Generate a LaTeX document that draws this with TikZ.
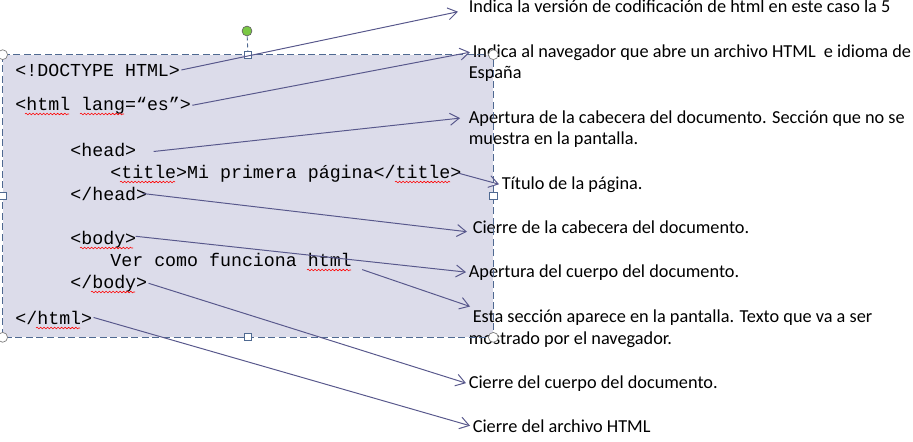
\documentclass[tikz,border=0pt]{standalone}
\usepackage{fontspec}
\setmainfont{Carlito}
\newfontfamily\codefont{Liberation Mono}
\usetikzlibrary{arrows.meta, calc, decorations.pathmorphing}

\definecolor{boxfill}{RGB}{220,220,234}
\definecolor{boxline}{RGB}{79,105,145}
\definecolor{arrowcol}{RGB}{88,88,140}
\definecolor{handlegreen}{RGB}{122,200,68}

\begin{document}
\begin{tikzpicture}[
    x=0.025cm, y=-0.025cm,
    >={Straight Barb[length=6.5pt,width=8.5pt]},
    code/.style={anchor=base west, inner sep=0pt, outer sep=1pt,
                 font=\codefont\fontsize{13}{15}\selectfont},
    note/.style={anchor=base west, inner sep=0pt, outer sep=2pt,
                 font=\fontsize{13}{16}\selectfont},
    arr/.style={->, draw=arrowcol, line width=0.7pt},
    spell/.style={draw=red, line width=0.4pt, decorate,
                  decoration={snake, amplitude=0.6pt, segment length=2.5pt}},
    corner/.style={circle, draw=gray, fill=white, inner sep=0pt,
                   minimum size=7pt, line width=0.5pt},
    side/.style={rectangle, draw=boxline, fill=white, inner sep=0pt,
                 minimum size=5pt, line width=0.5pt}
  ]
  \useasboundingbox (0,0) rectangle (913,441);

  % text box with the html source
  \node[fill=boxfill, minimum width=12.25cm, minimum height=7.05cm,
        inner sep=0pt] (frame) at (248,196) {};

  \node[code] (doctype)   at (14,76)  {<!DOCTYPE HTML>};
  \node[code] (htmlopen)  at (14,110) {<html lang=“es”>};
  \node[code] (headopen)  at (69,156) {<head>};
  \node[code] (title)     at (109,178) {<title>Mi primera página</title>};
  \node[code] (headclose) at (69,200) {</head>};
  \node[code] (bodyopen)  at (69,244) {<body>};
  \node[code] (content)   at (109,266) {Ver como funciona html};
  \node[code] (bodyclose) at (69,288) {</body>};
  \node[code] (htmlclose) at (14,324) {</html>};

  % spelling marks
  \draw[spell] (25,114) -- (69,114);
  \draw[spell] (80,114) -- (124,114);
  \draw[spell] (120,182) -- (175,182);
  \draw[spell] (395,182) -- (450,182);
  \draw[spell] (80,248) -- (133,248);
  \draw[spell] (307,270) -- (351,270);
  \draw[spell] (91,292) -- (135,292);
  \draw[spell] (36,328) -- (80,328);

  % explanations
  \node[note] (n1)  at (466,12)  {Indica la versión de codificación de html en este caso la 5};
  \node[note] (n2)  at (470,57)  {Indica al navegador que abre un archivo HTML\ \ e idioma de};
  \node[note] (n2b) at (466,78)  {España};
  \node[note] (n3)  at (466,123) {Apertura de la cabecera del documento. Sección que no se};
  \node[note] (n3b) at (466,144) {muestra en la pantalla.};
  \node[note] (n4)  at (499,189) {Título de la página.};
  \node[note] (n5)  at (470,233) {Cierre de la cabecera del documento.};
  \node[note] (n6)  at (466,277) {Apertura del cuerpo del documento.};
  \node[note] (n7)  at (470,322) {Esta sección aparece en la pantalla. Texto que va a ser};
  \node[note] (n7b) at (466,344) {mostrado por el navegador.};
  \node[note] (n8)  at (466,388) {Cierre del cuerpo del documento.};
  \node[note] (n9)  at (470,432) {Cierre del archivo HTML};

  % selection frame and handles
  \draw[boxline, line width=0.6pt, dash pattern=on 5pt off 2.5pt]
    (frame.north west) rectangle (frame.south east);
  \node[corner] (hnw) at (frame.north west) {};
  \node[corner] (hne) at (frame.north east) {};
  \node[corner] (hsw) at (frame.south west) {};
  \node[corner] (hse) at (frame.south east) {};
  \node[side] (hn) at (frame.north) {};
  \node[side] (hs) at (frame.south) {};
  \node[side] (hw) at (frame.west) {};
  \node[side] (he) at (frame.east) {};
  \node[circle, draw=gray!80!black, fill=handlegreen, inner sep=0pt,
        minimum size=7pt, line width=0.5pt] (rot) at (247,31) {};
  \draw[boxline, line width=0.6pt, dash pattern=on 3pt off 2pt] (rot) -- (hn);

  % connectors
  \draw[arr] (doctype.east) -- ($(n1.west)+(-8,6)$);
  \draw[arr] (htmlopen.east) -- (n2.west);
  \draw[arr] ($(headopen.east)+(16,2)$) -- ($(n3.west)+(-6,0)$);
  \draw[arr] ($(title.east)+(-4,0)$) -- (n4.west);
  \draw[arr] ($(headclose.east)+(-6,0)$) -- ($(n5.west)+(-3,5)$);
  \draw[arr] ($(bodyopen.east)+(-2,-3)$) -- (n6.west);
  \draw[arr] ($(content.south east)+(9,2)$) -- (n7.north west);
  \draw[arr] (bodyclose.east) -- (n8.west);
  \draw[arr] (htmlclose.east) -- (n9.west);
\end{tikzpicture}
\end{document}
